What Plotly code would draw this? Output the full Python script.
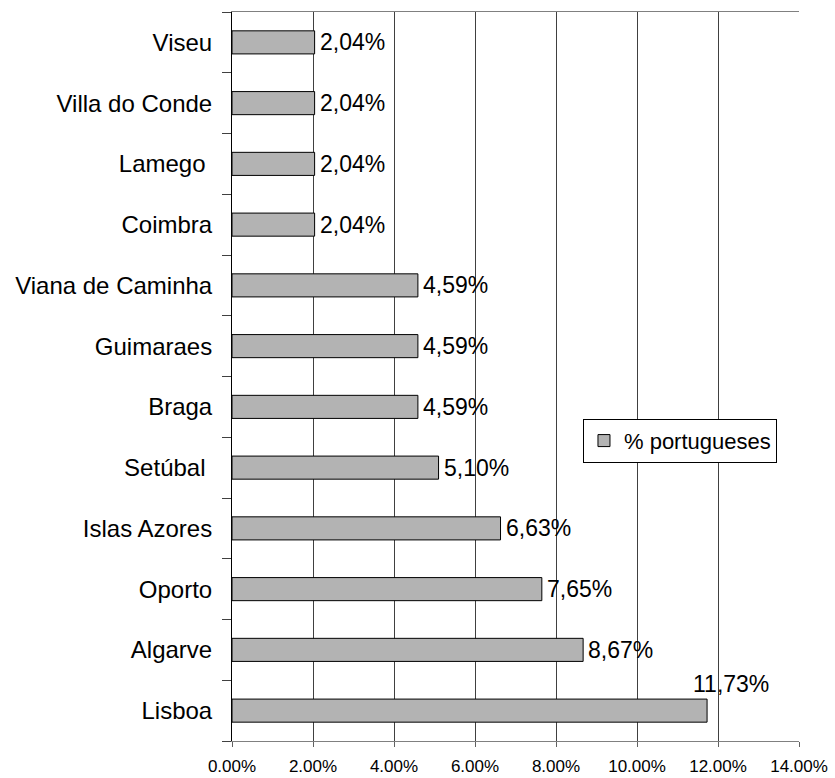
import plotly.graph_objects as go

# bottom to top, as plotly stacks categories
ciudades = [
    'Lisboa', 'Algarve', 'Oporto', 'Islas Azores', 'Setúbal\u00a0', 'Braga',
    'Guimaraes', 'Viana de Caminha', 'Coimbra', 'Lamego\u00a0', 'Villa do Conde', 'Viseu'
]
porcentajes = [11.73, 8.67, 7.65, 6.63, 5.10, 4.59, 4.59, 4.59, 2.04, 2.04, 2.04, 2.04]
serie = '% portugueses'
ticks_x = [0, 2, 4, 6, 8, 10, 12, 14]
ticks_x_txt = [f'{t:.2f}%' for t in ticks_x]

fig = go.Figure(go.Bar(
    x=porcentajes,
    y=ciudades,
    orientation='h',
    name=serie,
    marker=dict(color='#b3b3b3', line=dict(color='black', width=1)),
    showlegend=True,
))

# data labels with comma decimals
for i, (c, v) in enumerate(zip(ciudades, porcentajes)):
    txt = f'{v:.2f}'.replace('.', ',') + '%'
    if i == 0:
        # the longest bar gets its label lifted above the end
        fig.add_annotation(x=v, y=c, text=txt, showarrow=False, xanchor='left',
                           xshift=-16, yshift=27, font=dict(size=23, color='black'))
    else:
        fig.add_annotation(x=v, y=c, text=txt, showarrow=False, xanchor='left',
                           xshift=3, font=dict(size=23, color='black'))

fig.update_layout(
    width=835, height=778,
    margin=dict(l=232, r=36, t=12, b=37),
    plot_bgcolor='white', paper_bgcolor='white',
    font=dict(family='Liberation Sans, Arial, sans-serif', color='black'),
    bargap=0.62,
    legend=dict(x=0.619, y=0.442, xanchor='left', yanchor='top',
                bordercolor='black', borderwidth=1, bgcolor='white',
                font=dict(size=22)),
    xaxis=dict(
        range=[0, 14], tickvals=ticks_x, ticktext=ticks_x_txt,
        showgrid=True, gridcolor='#404040', gridwidth=1,
        showline=True, linecolor='#808080', mirror=True,
        ticks='outside', ticklen=5, tickcolor='#606060',
        zeroline=False, tickfont=dict(size=17), ticklabelstandoff=5,
        automargin=False,
    ),
    yaxis=dict(
        type='category', tickson='boundaries', ticks='outside', ticklen=9,
        tickcolor='#404040', showgrid=False, showline=True, linecolor='black',
        tickfont=dict(size=24), ticklabelstandoff=14, automargin=False,
    ),
)

# drop the browser's default body margin so the figure sits at the page corner
fig.write_html('out.html', config={'displayModeBar': False},
               post_script="document.body.style.margin='0';")
